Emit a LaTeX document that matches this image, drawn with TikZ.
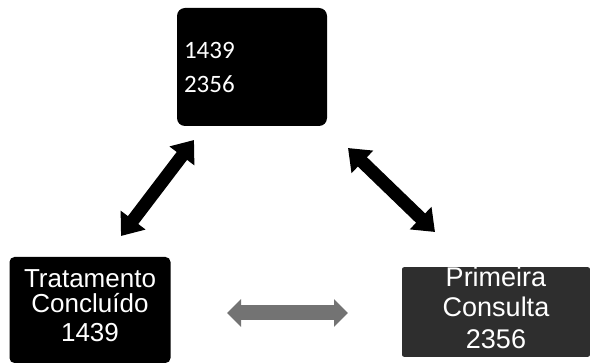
\documentclass[tikz,border=0pt]{standalone}
\usepackage{fontspec}
\setmainfont{Liberation Sans}
\newfontfamily\calfont{Carlito}
\usetikzlibrary{arrows.meta}

\begin{document}
\begin{tikzpicture}[x=1pt, y=-1pt,
  box/.style={fill=black, text=white, inner sep=0pt},
  dblarrow/.style={line width=13pt, {Triangle[width=30pt,length=20pt]}-{Triangle[width=30pt,length=20pt]}}]
\useasboundingbox (0,0) rectangle (590,363);
\node[box, rounded corners=8pt, minimum width=150pt, minimum height=118pt, align=left, text width=136pt,
  font=\calfont\fontsize{25}{34}\selectfont] (valores) at (252,67) {1439\\2356};
\node[box, rounded corners=5pt, minimum width=161pt, minimum height=106pt, align=center,
  font=\fontsize{26}{25}\selectfont] (concluido) at (90,310) {Tratamento\\Concluído\\[4pt]1439\rule[-8pt]{0pt}{0pt}};
\node[box, fill=black!82, rounded corners=2pt, minimum width=188pt, minimum height=85pt, align=center,
  font=\fontsize{27}{30}\selectfont] (consulta) at (496,312) {Primeira\\Consulta\\[2pt]2356\rule[-8pt]{0pt}{0pt}};
\coordinate (c1) at (121,236);
\coordinate (c2) at (194,140);
\coordinate (c3) at (348,148);
\coordinate (c4) at (435,232);
\coordinate (c5) at (227,313);
\coordinate (c6) at (348,313);
\draw[dblarrow] (c1) -- (c2);
\draw[dblarrow] (c3) -- (c4);
\draw[dblarrow, black!55, line width=15pt, {Triangle[width=27pt,length=14pt]}-{Triangle[width=27pt,length=14pt]}] (c5) -- (c6);
\end{tikzpicture}
\end{document}
